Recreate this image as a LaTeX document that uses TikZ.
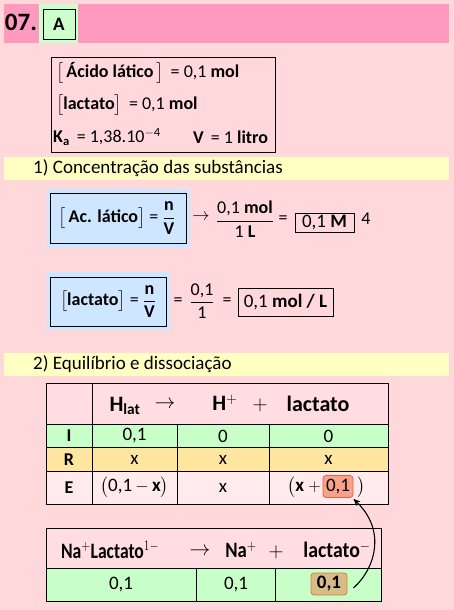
\documentclass[tikz,border=0pt]{standalone}
\usepackage{fontspec}
\usepackage{amsmath}
\setmainfont{Carlito}
\usetikzlibrary{arrows.meta}
\definecolor{bgpink}{RGB}{255,216,220}
\definecolor{toppink}{RGB}{255,153,190}
\definecolor{greenA}{RGB}{204,255,204}
\definecolor{yelbar}{RGB}{255,255,196}
\definecolor{bluebox}{RGB}{206,230,255}
\definecolor{hdrpink}{RGB}{255,221,224}
\definecolor{rowI}{RGB}{200,255,200}
\definecolor{rowR}{RGB}{255,230,160}
\definecolor{rowE}{RGB}{255,234,238}
\definecolor{hiup}{RGB}{248,162,140}
\definecolor{hiupd}{RGB}{235,95,60}
\definecolor{hilow}{RGB}{215,188,138}
\definecolor{hilowd}{RGB}{215,125,45}
\begin{document}
\begin{tikzpicture}[x=1pt,y=-1pt,
  txt/.style={inner sep=0pt,font=\fontsize{18}{20}\selectfont},
  bar/.style={inner sep=0pt,anchor=west,font=\fontsize{19}{21}\selectfont},
  hdr/.style={inner sep=0pt,font=\fontsize{22}{24}\selectfont\bfseries},
  cell/.style={inner sep=0pt,font=\fontsize{19}{21}\selectfont},
  lab/.style={inner sep=0pt,font=\fontsize{18}{20}\selectfont\bfseries},
  tline/.style={line width=0.8pt},
  hibox/.style={rounded corners=3pt,line width=0.8pt,inner sep=0pt}]
\fill[bgpink] (0,0) rectangle (454,610);
\useasboundingbox (0,0) rectangle (454,610);
% top bar
\fill[toppink] (4,4) rectangle (449,43);
\fill[greenA] (39,4) rectangle (78,43);
\node[inner sep=0pt,font=\fontsize{25}{27}\selectfont\bfseries] (num) at (21,22) {07.};
\node[draw,line width=0.7pt,minimum width=32pt,minimum height=30pt,inner sep=0pt,font=\fontsize{19}{21}\selectfont\bfseries] (ans) at (59,24.5) {A};
% data box
\node[draw,line width=0.8pt,minimum width=224pt,minimum height=95pt,inner sep=0pt] (data) at (163,104.5) {};
\node[txt,anchor=west] (d1) at (56,73) {$\big[$\,\textbf{Ácido lático}\,$\big]$ \,= 0,1 \textbf{mol}};
\node[txt,anchor=west] (d2) at (56,105) {$\big[$\textbf{lactato}$\big]$ \,= 0,1 \textbf{mol}};
\node[txt,anchor=west] (d3) at (53,137) {\textbf{K}\textsubscript{\textbf{a}} \,= 1,38.10\textsuperscript{$-$4}};
\node[txt,anchor=west] (d4) at (193,137) {\textbf{V} \,= 1 \textbf{litro}};
% section 1
\fill[yelbar] (4,157) rectangle (449,180);
\node[bar] (s1) at (33,168) {1) Concentração das substâncias};
% blue box 1
\fill[bluebox] (47,189) rectangle (190,248);
\node[draw,line width=0.8pt,minimum width=136pt,minimum height=50pt,inner sep=0pt] (b1) at (118,218) {};
\node[txt] (b1t) at (117,218) {$\big[$\,\textbf{Ac. lático}$\big]$ = $\dfrac{\text{\textbf{n}}}{\text{\textbf{V}}}$};
\node[txt] (ar1) at (201,217) {$\rightarrow$};
\node[txt] (fr1) at (245,219) {$\dfrac{\text{0,1 \textbf{mol}}}{\text{1 \textbf{L}}}$};
\node[txt] (eq1) at (283,220) {=};
\node[draw,line width=0.8pt,minimum width=59pt,minimum height=19pt,inner sep=0pt,font=\fontsize{19}{21}\selectfont] (r1) at (324.5,222.5) {0,1 \textbf{M}};
\node[txt] (four) at (366,219) {4};
% blue box 2
\fill[bluebox] (47,272) rectangle (170,330);
\node[draw,line width=0.8pt,minimum width=116pt,minimum height=49pt,inner sep=0pt] (b2) at (108,301.5) {};
\node[txt] (b2t) at (108,301.5) {$\big[$\textbf{lactato}$\big]$ = $\dfrac{\text{\textbf{n}}}{\text{\textbf{V}}}$};
\node[txt] (eq2) at (178,302) {=};
\node[txt] (fr2) at (202,301) {$\dfrac{\text{0,1}}{\text{1}}$};
\node[txt] (eq3) at (227,302) {=};
\node[draw,line width=0.8pt,minimum width=95pt,minimum height=28pt,inner sep=0pt,font=\fontsize{19}{21}\selectfont] (r2) at (285.5,302) {0,1 \textbf{mol / L}};
% section 2
\fill[yelbar] (4,353) rectangle (449,376);
\node[bar] (s2) at (33,364) {2) Equilíbrio e dissociação};
% table 1
\fill[hdrpink] (46,383) rectangle (388,424);
\fill[rowI] (46,424) rectangle (388,447);
\fill[rowR] (46,447) rectangle (388,471);
\fill[rowE] (46,471) rectangle (388,504);
\draw[tline] (46,383) rectangle (388,504);
\draw[tline] (46,424) -- (388,424) (46,447) -- (388,447) (46,471) -- (388,471);
\draw[tline] (92,383) -- (92,504) (177,424) -- (177,504) (269,424) -- (269,504);
\node[hdr] (h1) at (125,406) {H\textsubscript{lat}};
\node[txt,font=\fontsize{20}{22}\selectfont] (h2) at (165,405) {$\rightarrow$};
\node[hdr] (h3) at (225,403) {H$^{+}$};
\node[txt,font=\fontsize{20}{22}\selectfont] (h4) at (260,405) {$+$};
\node[hdr] (h5) at (318,404) {lactato};
\node[lab] (lI) at (69,436) {I};
\node[lab] (lR) at (69,459.5) {R};
\node[lab] (lE) at (69,487.5) {E};
\node[cell] (i1) at (134.5,436) {0,1};
\node[cell] (i2) at (223,436) {0};
\node[cell] (i3) at (328.5,436) {0};
\node[cell] (r1c) at (134.5,459.5) {x};
\node[cell] (r2c) at (223,459.5) {x};
\node[cell] (r3c) at (328.5,459.5) {x};
\node[cell] (e1) at (134.5,487.5) {$\big($0,1\,$-$\,\textbf{x}$\big)$};
\node[cell] (e2) at (223,488) {x};
\node[hibox,draw=hiupd,fill=hiup,minimum width=30pt,minimum height=22pt,font=\fontsize{19}{21}\selectfont] (up) at (338,486.5) {0,1};
\node[cell,anchor=east] (e3a) at (321,487.5) {$\big($\textbf{x} $+$};
\node[cell] (e3b) at (361,487.5) {$\big)$};
% table 2
\fill[hdrpink] (46,528) rectangle (381,568);
\fill[rowI] (46,568) rectangle (381,601);
\draw[tline] (46,528) rectangle (381,601);
\draw[tline] (46,568) -- (381,568);
\draw[tline] (196,568) -- (196,601) (275,568) -- (275,601);
\node[hdr] (n1) at (110,550) {\scalebox{0.8}[1]{Na$^{+}$Lactato$^{1-}$}};
\node[txt,font=\fontsize{20}{22}\selectfont] (n2) at (200,552) {$\rightarrow$};
\node[hdr] (n3) at (241,550) {\scalebox{0.85}[1]{Na$^{+}$}};
\node[txt,font=\fontsize{20}{22}\selectfont] (n4) at (276,552) {$+$};
\node[hdr] (n5) at (337,550) {\scalebox{0.9}[1]{lactato$^{-}$}};
\node[cell] (v1) at (121,585) {0,1};
\node[cell] (v2) at (236,585) {0,1};
\node[hibox,draw=hilowd,fill=hilow,minimum width=36pt,minimum height=22pt,font=\fontsize{19}{21}\selectfont\bfseries] (low) at (329,584) {0,1};
% arrow
\draw[line width=1.1pt,-{Stealth[length=7pt,width=6pt]}] ([shift={(6,4)}]low.east) .. controls (376,568) and (386,530) .. ([shift={(0,1)}]up.south east);
\end{tikzpicture}
\end{document}
